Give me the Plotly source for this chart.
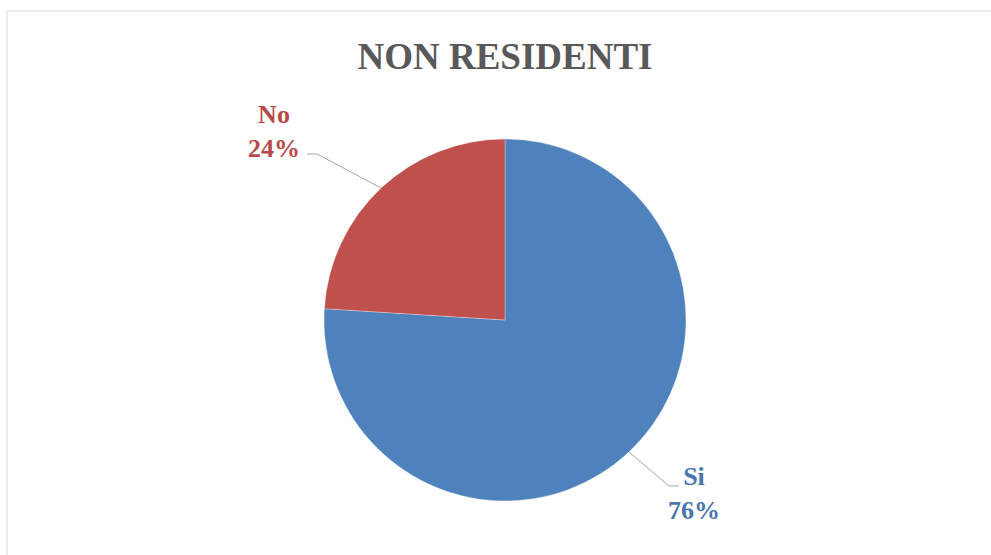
import math
import plotly.graph_objects as go

# ---- data ----
categories = ["Si", "No"]
values = [76, 24]
title_text = "NON RESIDENTI"

# ---- styles ----
W, H = 991, 555
slice_colors = ["#4F81BD", "#C0504D"]
label_colors = ["#4A76AE", "#B8494A"]
FONT = "Liberation Serif, DejaVu Serif, serif"

cx, cy, r = 505, 320, 181  # pie centre / radius in px (layout)

def px(x):
    return x / W

def py(y):
    return 1 - y / H

fig = go.Figure()
fig.add_trace(go.Pie(
    labels=categories,
    values=values,
    sort=False,
    direction="clockwise",
    rotation=0,
    textinfo="none",
    hoverinfo="label+percent",
    marker=dict(colors=slice_colors, line=dict(color="rgba(255,255,255,0.6)", width=0.5)),
    domain=dict(x=[px(cx - r), px(cx + r)], y=[py(cy + r), py(cy - r)]),
    showlegend=False,
))

# leader-line layout per slice: (elbow offset from edge point, horizontal tail, label offset)
leader_style = {
    "Si": dict(elbow=(40, 34), tail=10, text_dx=15, text_dy=8),
    "No": dict(elbow=(-64, -34), tail=-10, text_dx=-33, text_dy=-23),
}

total = sum(values)
shapes = []
annotations = []
cum = 0
for cat, val, col in zip(categories, values, label_colors):
    frac_mid = (cum + val / 2) / total
    cum += val
    ang = 2 * math.pi * frac_mid  # clockwise from top
    ex = cx + r * math.sin(ang)
    ey = cy - r * math.cos(ang)
    st = leader_style[cat]
    bx, by = ex + st["elbow"][0], ey + st["elbow"][1]
    tx = bx + st["tail"]
    for (x0, y0, x1, y1) in [(ex, ey, bx, by), (bx, by, tx, by)]:
        shapes.append(dict(type="line", xref="paper", yref="paper",
                           x0=px(x0), y0=py(y0), x1=px(x1), y1=py(y1),
                           line=dict(color="#A6A6A6", width=1)))
    pct = round(100 * val / total)
    annotations.append(dict(
        x=px(tx + st["text_dx"]), y=py(by + st["text_dy"]),
        xref="paper", yref="paper", xanchor="center", yanchor="middle",
        text=f"<b>{cat}</b><br><b>{pct}%</b>", showarrow=False, align="center",
        font=dict(family=FONT, size=26, color=col),
    ))

# chart area border (top and left visible)
shapes.append(dict(type="line", xref="paper", yref="paper", x0=px(7), y0=py(11), x1=1, y1=py(11),
                   line=dict(color="#D9D9D9", width=1)))
shapes.append(dict(type="line", xref="paper", yref="paper", x0=px(7), y0=py(11), x1=px(7), y1=0,
                   line=dict(color="#D9D9D9", width=1)))

fig.update_layout(
    width=W, height=H,
    margin=dict(l=0, r=0, t=0, b=0),
    paper_bgcolor="white", plot_bgcolor="white",
    title=dict(text=f"<b>{title_text}</b>", x=px(505), xanchor="center",
               y=py(56), yanchor="middle",
               font=dict(family=FONT, size=37, color="#595959")),
    shapes=shapes,
    annotations=annotations,
)

fig.write_html("out.html")
